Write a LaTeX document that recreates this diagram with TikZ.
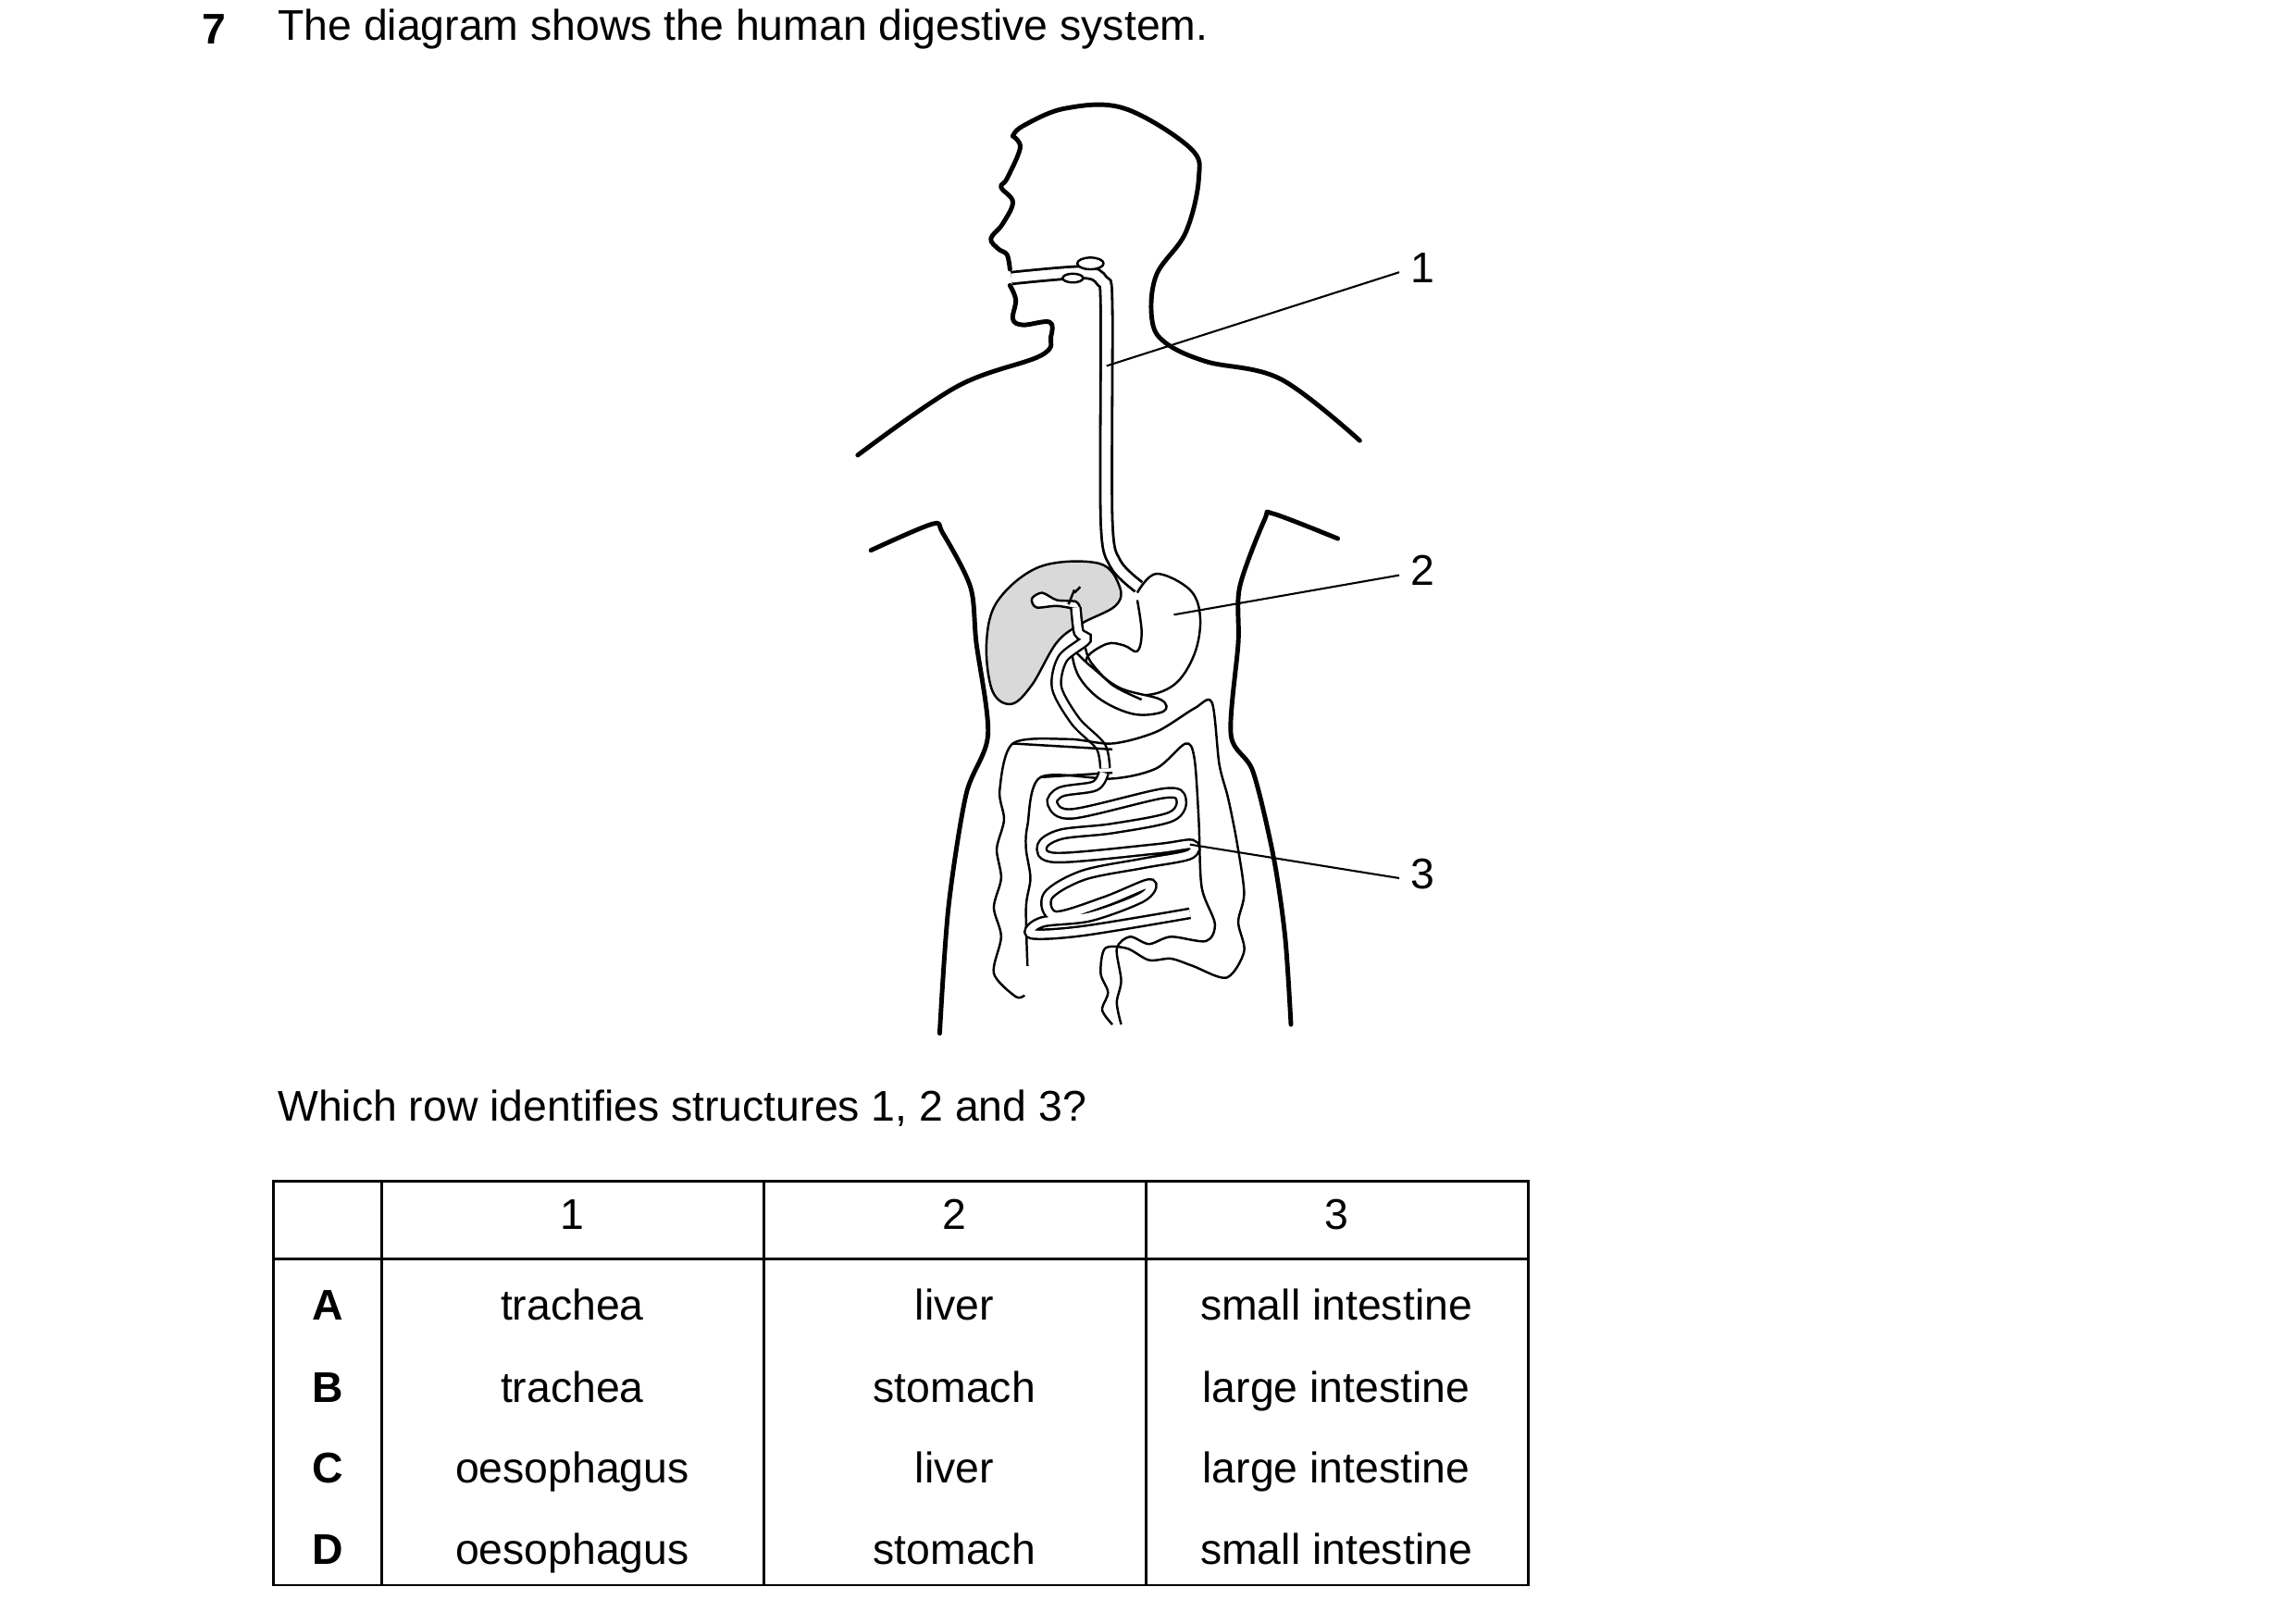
\documentclass[tikz,border=0pt]{standalone}
\usepackage{fontspec}
\setmainfont{Liberation Sans}
\begin{document}
\begin{tikzpicture}[x=0.015816cm,y=-0.015816cm,
  body/.style={line width=1.4pt,line cap=round,line join=round},
  organ/.style={line width=0.7pt,line join=round},
  tube/.style={line width=0.7pt,double=white,double distance=2.2pt},
  wavy/.style={organ},
  ptr/.style={line width=0.6pt},
  lbl/.style={font=\fontsize{13.2}{16}\selectfont,text height=1.6ex,text depth=0.4ex},
  txt/.style={font=\fontsize{13.2}{16}\selectfont,anchor=west}]
\useasboundingbox (0,0) rectangle (1568,1109);
% question text
\node[txt,font=\fontsize{13.2}{16}\selectfont\bfseries] (qn) at (130,20) {7};
\node[txt] (q) at (182,20) {The diagram shows the human digestive system.};
\node[txt] (q2) at (182,757) {Which row identifies structures 1, 2 and 3?};
% head
\draw[body] plot[smooth,tension=0.6] coordinates {(692,93)(699,86)(728,74)(768,74)(813,101)(819,122)(810,159)(790,188)(787,218)(796,234)(824,247)(875,259)(929,301)};
\draw[body] plot[smooth,tension=0.6] coordinates {(692,93)(697,101)(688,122)(684,128)(692,138)(685,153)(677,163)(682,170)(688,174)(690,184)};
\draw[body] plot[smooth,tension=0.6] coordinates {(690,195)(694,205)(692,218)(699,222)(717,220)(718,230)(711,243)(654,264)(586,311)};
% torso
\draw[body] plot[smooth,tension=0.5] coordinates {(595,376)(637,358)(644,364)(663,401)(667,439)(675,502)(660,543)(648,620)(642,706)};
\draw[body] plot[smooth,tension=0.5] coordinates {(914,368)(870,351)(864,355)(847,401)(846,439)(841,502)(856,527)(870,585)(878,640)(882,700)};
% liver
\draw[organ,fill=gray!30] plot[smooth cycle,tension=0.6] coordinates {(765,401)(751,385)(711,387)(682,410)(674,439)(678,472)(691,481)(705,468)(722,439)(739,426)(762,414)};
\draw[organ,fill=white] plot[smooth cycle] coordinates {(705,409)(712,405)(722,410)(735,411)(737,416)(722,414)(708,415)};
\draw[organ] (730,413) -- (734,403) (734,405) -- (738,401);
% oesophagus
\draw[tube,line width=0.8pt,double distance=2.8pt] plot[smooth,tension=0.5] coordinates {(691,190)(740,186)(753,192)(756,210)(756,355)(762,385)(778,401)};
\draw[organ,fill=white] (745,180) ellipse (9 and 4);
\draw[organ,fill=white] (733,190) ellipse (7 and 3);
% stomach
\draw[organ,fill=white] plot[smooth,tension=0.6] coordinates {(777,405)(790,392)(813,403)(820,422)(816,447)(802,468)(779,475)(753,466)(742,451)(756,440)(768,441)(777,445)(780,432)(777,410)};
% duodenum and pancreas
\draw[organ,fill=white] plot[smooth cycle,tension=0.6] coordinates {(733,445)(745,455)(765,470)(793,478)(795,486)(775,488)(752,478)(737,462)};
\draw[organ] plot[smooth] coordinates {(741,440)(745,452)(760,468)(780,478)};
\draw[tube] plot[smooth,tension=0.5] coordinates {(735,415)(737,432)(742,437)(726,450)(722,470)(735,493)(752,510)(755,525)};
% large intestine
\draw[wavy] plot[smooth,tension=0.5] coordinates {(700,680)(694,681)(679,665)(684,640)(679,620)(684,600)(681,580)(686,560)(683,540)(692,508)(730,505)(760,508)(790,500)(816,484)(828,480)(833,522)(839,545)(845,575)(850,610)(846,630)(850,650)(838,668)(815,660)(800,655)(785,656)(770,648)(755,648)(752,665)(757,678)(753,690)(760,700)};
\draw[wavy] plot[smooth,tension=0.5] coordinates {(702,660)(701,620)(704,600)(701,580)(702,564)(711,531)(760,532)(790,525)(810,508)(816,518)(819,560)(821,606)(830,631)(824,643)(800,640)(785,645)(772,640)(763,648)(766,670)(763,685)(766,700)};
\draw[organ] (692,508) -- (760,512) (711,531) -- (760,528);
% small intestine coils
\draw[tube] plot[smooth,tension=0.55] coordinates {(754,528)(748,537)(725,541)(719,549)(733,556)(795,542)(807,546)(800,558)(760,566)(725,570)(712,578)(722,586)(790,580)(814,577)(812,584)(780,590)(740,598)(716,612)(721,626)(755,616)(785,604)(780,613)(745,626)(712,630)(705,638)(740,636)(813,624)};
% pointers
\coordinate (p1) at (756,250);
\coordinate (p2) at (802,420);
\coordinate (p3) at (813,577);
\node[lbl] (l1) at (972,186) {1};
\node[lbl] (l2) at (972,393) {2};
\node[lbl] (l3) at (972,600) {3};
\draw[ptr] (p1) -- (l1.west);
\draw[ptr] (p2) -- (l2.west);
\draw[ptr] (p3) -- (l3.west);
% table
\draw[line width=0.8pt] (187,807) rectangle (1044,1083);
\draw[line width=0.8pt] (187,860) -- (1044,860);
\foreach \xx in {261,522,783} \draw[line width=0.8pt] (\xx,807) -- (\xx,1083);
\foreach \c/\t in {391/1,652/2,913/3} \node[lbl] (h\t) at (\c,833) {\t};
\foreach \y/\L/\a/\b/\cc in {895/A/trachea/liver/small intestine,951/B/trachea/stomach/large intestine,1006/C/oesophagus/liver/large intestine,1062/D/oesophagus/stomach/small intestine}{
  \node[lbl,font=\fontsize{13.2}{16}\selectfont\bfseries] (r\L) at (224,\y) {\L};
  \node[lbl] (r\L1) at (391,\y) {\a};
  \node[lbl] (r\L2) at (652,\y) {\b};
  \node[lbl] (r\L3) at (913,\y) {\cc};}
\end{tikzpicture}
\end{document}
